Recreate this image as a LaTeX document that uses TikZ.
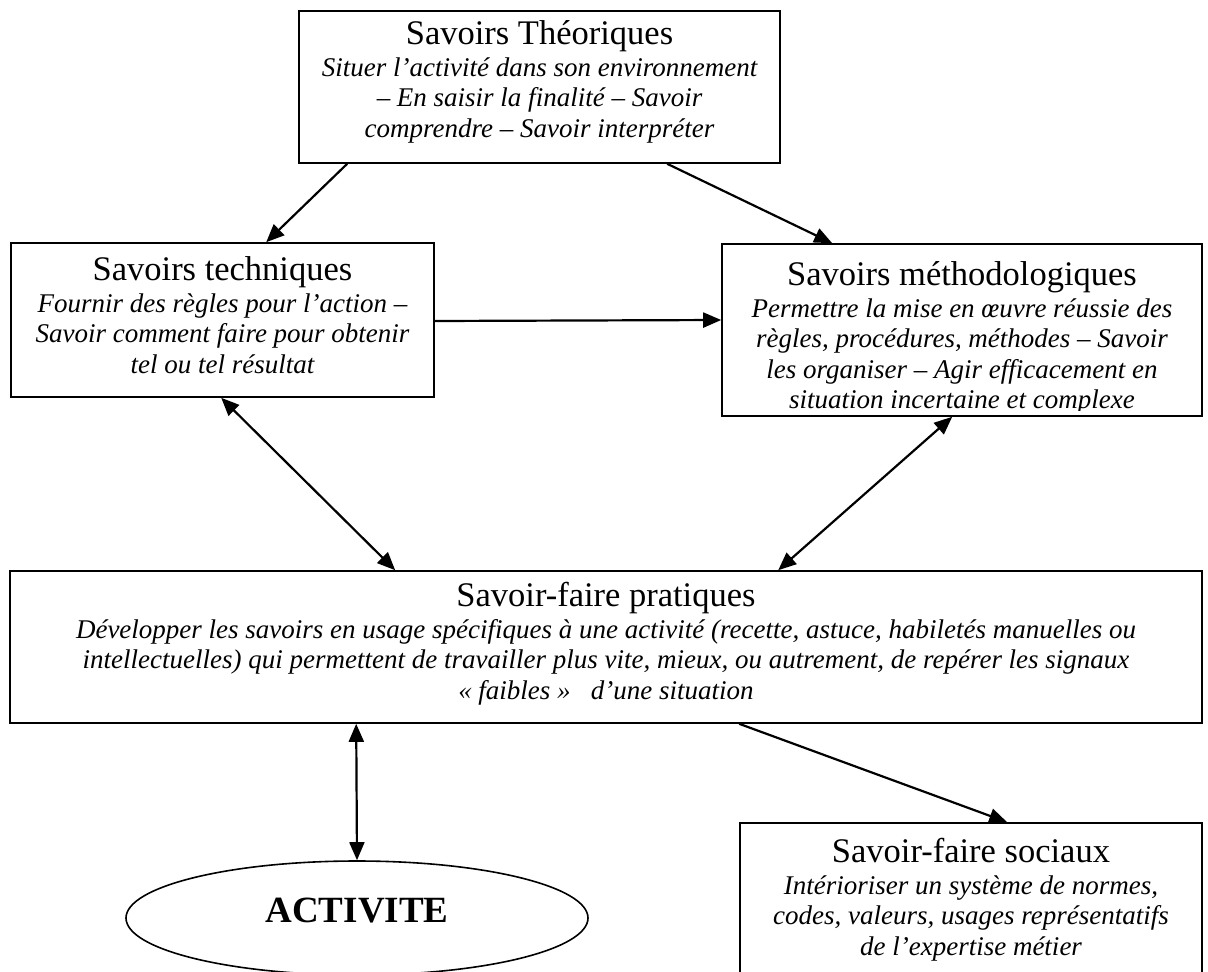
\documentclass[tikz,border=0pt]{standalone}
\usepackage{fontspec}
\setmainfont{Liberation Serif}
\usetikzlibrary{arrows.meta,shapes.geometric,calc}
\tikzset{
  boxshape/.style={draw, line width=1.6pt, rectangle, inner sep=0pt},
  boxtext/.style={align=center, anchor=base, inner sep=0pt,
    font=\fontsize{27}{30.3}\selectfont},
  conn/.style={line width=2.2pt, -{Triangle[length=18pt,width=15pt]}},
  bconn/.style={line width=2.2pt, {Triangle[length=18pt,width=15pt]}-{Triangle[length=18pt,width=15pt]}},
}
\newcommand{\ttl}[1]{{\fontsize{34.5}{31}\selectfont #1}\\[1.5pt]}
\begin{document}
\begin{tikzpicture}[x=1pt,y=-1pt]
\clip (0,0) rectangle (1208,972);
\fill[white] (0,0) rectangle (1208,972);
% boxes
\node[boxshape, minimum width=481pt, minimum height=152pt] (T) at (539.5,87) {};
\node[boxshape, minimum width=423pt, minimum height=154pt] (K) at (222.5,320) {};
\node[boxshape, minimum width=480pt, minimum height=172pt] (M) at (962,330) {};
\node[boxshape, minimum width=1192pt, minimum height=152pt] (P) at (606,647) {};
\node[boxshape, minimum width=462pt, minimum height=200pt] (S) at (971,923) {};
\node[draw, line width=1.6pt, ellipse, minimum width=462pt, minimum height=114pt, inner sep=0pt] (E) at (357,918) {};
% texts
\node[boxtext] (Tt) at (539.5,137) {\ttl{Savoirs Théoriques}
\itshape Situer l’activité dans son environnement\\
\itshape – En saisir la finalité – Savoir\\
\itshape comprendre – Savoir interpréter};
\node[boxtext] (Kt) at (222.5,373) {\ttl{Savoirs techniques}
\itshape Fournir des règles pour l’action –\\
\itshape Savoir comment faire pour obtenir\\
\itshape tel ou tel résultat};
\begin{scope}
\clip (722,245) rectangle (1202,410.5);
\node[boxtext] (Mt) at (962,408.5) {\ttl{Savoirs méthodologiques}
\itshape Permettre la mise en œuvre réussie des\\
\itshape règles, procédures, méthodes – Savoir\\
\itshape les organiser – Agir efficacement en\\
\itshape situation incertaine et complexe};
\end{scope}
\node[boxtext] (Pt) at (606,699) {\ttl{Savoir-faire pratiques}
\itshape Développer les savoirs en usage spécifiques à une activité (recette, astuce, habiletés manuelles ou\\
\itshape intellectuelles) qui permettent de travailler plus vite, mieux, ou autrement, de repérer les signaux\\
\itshape « faibles »\ \ \ d’une situation};
\node[boxtext] (St) at (971,955) {\ttl{Savoir-faire sociaux}
\itshape Intérioriser un système de normes,\\
\itshape codes, valeurs, usages représentatifs\\
\itshape de l’expertise métier};
\node[font=\fontsize{37}{40}\selectfont\bfseries, anchor=base, inner sep=0pt] (Et) at (357,922) {ACTIVITE};
% connectors
\draw[conn] ([xshift=49pt]T.south west) -- ([xshift=256pt]K.north west);
\draw[conn] ([xshift=369pt]T.south west) -- ([xshift=111pt]M.north west);
\draw[conn] ([yshift=-1pt]K.east) -- ([yshift=10pt]M.west);
\draw[bconn] ([xshift=211pt]K.south west) -- ([xshift=386pt]P.north west);
\draw[bconn] ([xshift=231pt]M.south west) -- ([xshift=769pt]P.north west);
\draw[bconn] ([xshift=347pt]P.south west) -- (E.north);
\draw[conn] ([xshift=730pt]P.south west) -- ([xshift=268pt]S.north west);
\end{tikzpicture}
\end{document}
